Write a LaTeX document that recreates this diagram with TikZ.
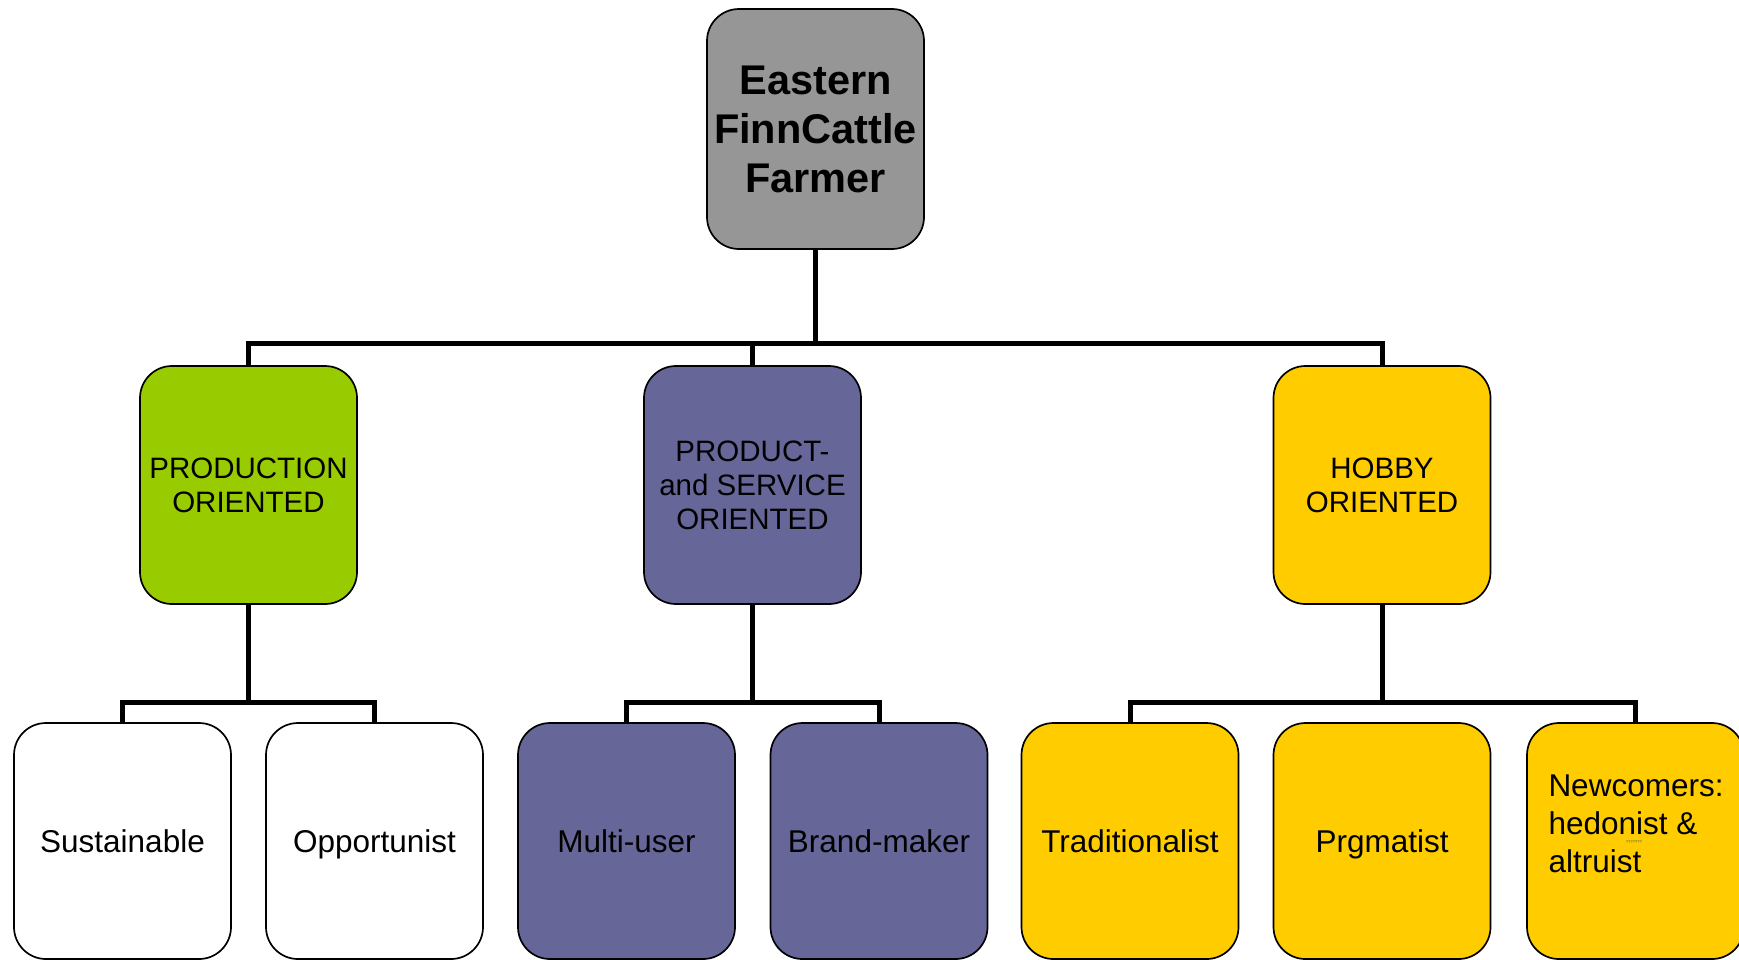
\documentclass[tikz,border=0pt]{standalone}
\usepackage{fontspec}
\setmainfont{Liberation Sans}
\definecolor{rootgray}{HTML}{969696}
\definecolor{prodgreen}{HTML}{99CC00}
\definecolor{servpurple}{HTML}{666699}
\definecolor{hobbyyellow}{HTML}{FFCC00}
\tikzset{
  box/.style={draw=black, line width=1.7pt, rounded corners=32pt, minimum width=217pt, minimum height=238pt, inner sep=0pt, align=center},
  lowbox/.style={box, minimum height=236pt},
  midtext/.style={font=\fontsize{29.5}{34}\selectfont},
  lowtext/.style={font=\fontsize{31.5}{36}\selectfont, text height=22pt, text depth=0pt},
  conn/.style={draw=black, line width=5pt}
}
\begin{document}
\begin{tikzpicture}[x=1pt,y=-1pt]
\clip (0,0) rectangle (1739,959);
\fill[white] (0,0) rectangle (1739,959);
% coordinates for buses
\coordinate (bus1) at (815.5,343);
\coordinate (bus2) at (248.5,702);
\coordinate (bus3) at (752.5,702);
\coordinate (bus4) at (1382,702);
% connectors
\draw[conn] (815.5,129) -- (bus1);
\draw[conn] (248.5,485) |- (bus1) -| (1382,485);
\draw[conn] (752.5,485) -- (752.5,343);
\draw[conn] (248.5,485) -- (bus2);
\draw[conn] (122.5,841) |- (bus2) -| (374.5,841);
\draw[conn] (752.5,485) -- (bus3);
\draw[conn] (626.5,841) |- (bus3) -| (879,841);
\draw[conn] (1382,485) -- (bus4);
\draw[conn] (1130,841) |- (bus4) -| (1635.5,841);
% nodes
\node[box, fill=rootgray, minimum height=240pt, font=\fontsize{41.5}{49}\bfseries\selectfont] (root) at (815.5,129) {Eastern\\FinnCattle\\Farmer};
\node[box, fill=prodgreen, midtext] (prod) at (248.5,485) {PRODUCTION\\ORIENTED};
\node[box, fill=servpurple, midtext] (serv) at (752.5,485) {PRODUCT-\\and SERVICE\\ORIENTED};
\node[box, fill=hobbyyellow, midtext] (hobby) at (1382,485) {HOBBY\\ORIENTED};
\node[lowbox, fill=white, lowtext] (sust) at (122.5,841) {Sustainable};
\node[lowbox, fill=white, lowtext] (opp) at (374.5,841) {Opportunist};
\node[lowbox, fill=servpurple, lowtext] (multi) at (626.5,841) {Multi-user};
\node[lowbox, fill=servpurple, lowtext] (brand) at (879,841) {Brand-maker};
\node[lowbox, fill=hobbyyellow, lowtext] (trad) at (1130,841) {Traditionalist};
\node[lowbox, fill=hobbyyellow, lowtext] (prag) at (1382,841) {Prgmatist};
\node[lowbox, fill=hobbyyellow] (newc) at (1635.5,841) {};
\node[align=left, inner sep=0pt, font=\fontsize{31.5}{38}\selectfont] (newtext) at (1636,824) {Newcomers:\\hedonist \&\\altruist};
\node[inner sep=0pt, font=\fontsize{4}{5}\selectfont, text=black!70] (qmarks) at (1634,842) {???????};
\end{tikzpicture}
\end{document}
